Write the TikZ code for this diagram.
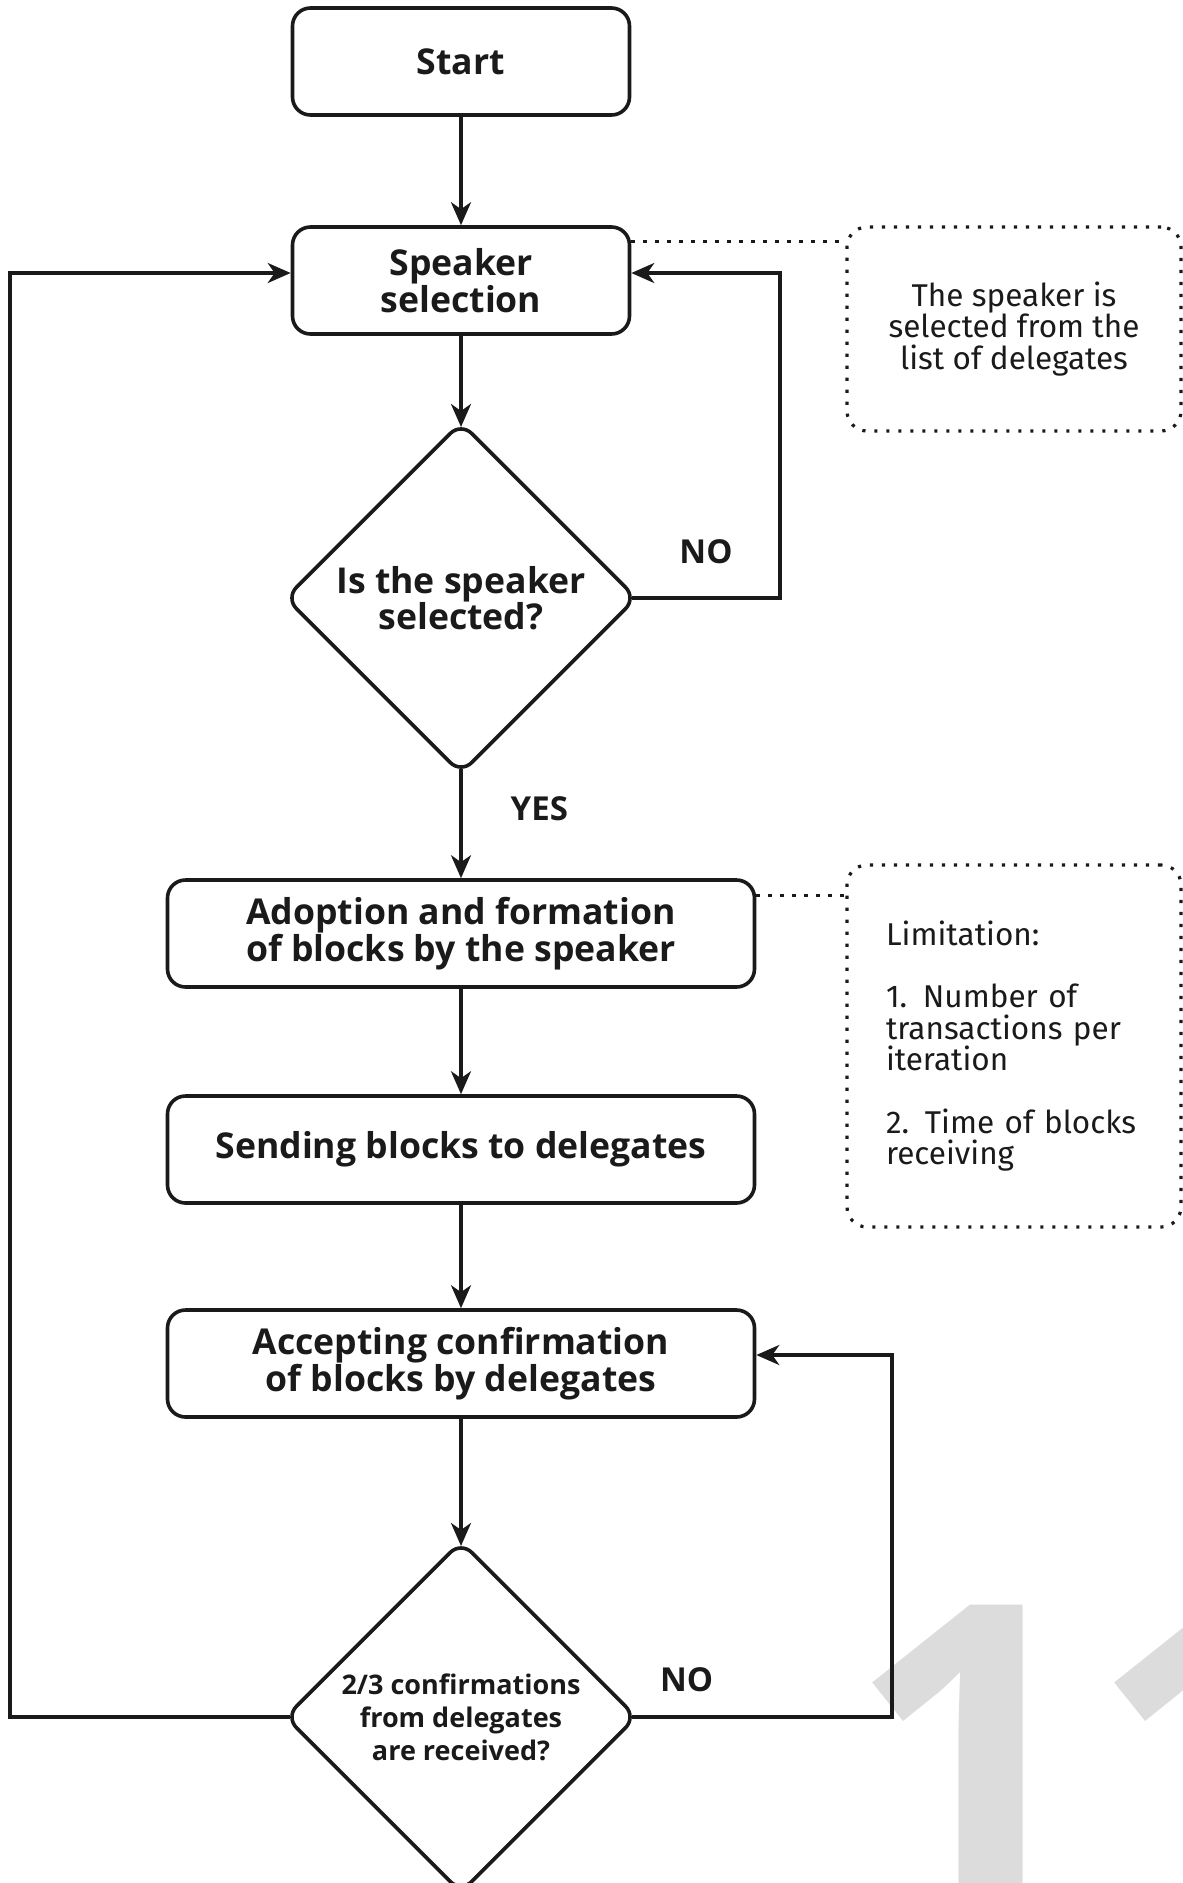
\documentclass[tikz,border=0pt]{standalone}
\usepackage{fontspec}
\setmainfont{Open Sans}
\newfontfamily\notefont{Fira Sans}
\usetikzlibrary{shapes.geometric,arrows.meta}
\definecolor{ink}{HTML}{1A1A1A}
\definecolor{mark}{HTML}{DCDCDC}

\begin{document}
\begin{tikzpicture}[x=1pt,y=-1pt]
\tikzstyle{block}=[draw=ink, line width=3.6pt, rounded corners=18pt, minimum height=107pt, align=center, text=ink, font=\bfseries\fontsize{35.6}{37}\selectfont]
\tikzstyle{decision}=[draw=ink, line width=3.6pt, diamond, rounded corners=15pt, minimum width=348pt, minimum height=348pt, inner sep=0pt, outer sep=-3pt, align=center, text=ink, font=\bfseries\fontsize{35.6}{36}\selectfont]
\tikzstyle{note}=[draw=ink, line width=3.2pt, dash pattern=on 3.2pt off 8.8pt, rounded corners=20pt, minimum width=334pt, text=ink, font=\notefont\fontsize{31.5}{31.4}\selectfont]
\tikzstyle{flow}=[draw=ink, line width=3.4pt, -{Stealth[length=23pt,width=20pt,inset=7pt]}]
\tikzstyle{dots}=[draw=ink, line width=3.2pt, dash pattern=on 3.2pt off 8.8pt]
\tikzstyle{answer}=[inner sep=0pt, text=ink, font=\bfseries\fontsize{33}{33}\selectfont]

\useasboundingbox (0,0) rectangle (1183,1883);
\clip (0,0) rectangle (1183,1883);

% page number behind the chart
\draw (847,1908) node[anchor=base west, inner sep=0pt, text=mark, font=\bfseries\fontsize{425}{425}\selectfont] (pagenum) {11};

\draw (461,61.5) node[block, minimum width=337pt] (start) {Start};
\draw (461,280.5) node[block, minimum width=337pt] (speaker) {Speaker\\selection};
\draw (461,598) node[decision] (q1) {Is the speaker\\selected?};
\draw (461,933.5) node[block, minimum width=587pt] (adopt) {Adoption and formation\\of blocks by the speaker};
\draw (461,1149.5) node[block, minimum width=587pt] (send) {Sending blocks to delegates};
\draw (461,1363.5) node[block, minimum width=587pt] (accept) {Accepting confirmation\\of blocks by delegates};
\draw (461,1717) node[decision, font=\bfseries\fontsize{27}{33}\selectfont] (q2) {2/3 confirmations\\from delegates\\are received?};

\draw (1014,329) node[note, minimum height=204pt, align=center] (note1) {The speaker is\\selected from the\\list of delegates};
\draw (1014,1046) node[note, minimum height=362pt, text width=256pt, inner xsep=39pt, align=left] (note2) {Limitation:\\[31pt]1. Number of\\transactions per\\iteration\\[31pt]2. Time of blocks\\receiving};

\draw[flow] (start) -- (speaker);
\draw[flow] (speaker) -- (q1);
\draw[flow] (q1) -- node[answer, right=48pt, pos=0.36] {YES} (adopt);
\draw[flow] (q1.east) -- node[answer, above=32pt] {NO} ++(148,0) |- ([yshift=7.5pt]speaker.east);
\draw[flow] (adopt) -- (send);
\draw[flow] (send) -- (accept);
\draw[flow] (accept) -- (q2);
\draw[flow] (q2.east) -- node[answer, above=23pt, pos=0.21] {NO} ++(260,0) |- ([yshift=8.5pt]accept.east);
\draw[flow] (q2.west) -- ++(-280,0) |- ([yshift=7.5pt]speaker.west);

\coordinate (tie1) at ([yshift=-16pt]speaker.north east);
\coordinate (tie2) at ([yshift=-17pt]adopt.north east);
\draw[dots] (tie1) -- (tie1 -| note1.west);
\draw[dots] (tie2) -- (tie2 -| note2.west);
\end{tikzpicture}
\end{document}
